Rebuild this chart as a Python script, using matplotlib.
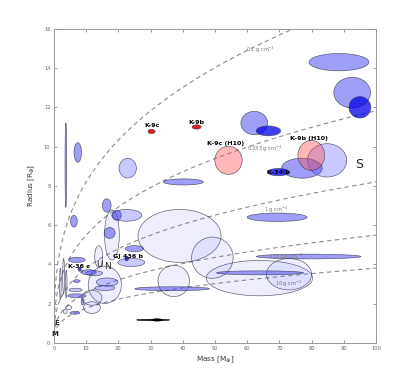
import numpy as np
import matplotlib
matplotlib.use("Agg")
import matplotlib.pyplot as plt
from matplotlib.patches import Ellipse

# ---------------- data ----------------
# planet mass [M_earth], radius [R_earth], full ellipse width in mass, full height in radius, shade
mass = [39.0, 63.8, 49.2, 73.0, 37.2, 15.8, 18.0, 11.8, 11.8,
        88.5, 92.6, 95.0, 62.2, 66.6, 84.8, 77.0, 69.7,
        54.2, 79.9, 30.3, 44.3,
        3.7, 7.4, 22.9, 40.2, 16.4, 19.5, 22.6, 6.2, 17.3,
        64.0, 79.1, 36.7, 25.0, 24.0, 22.6, 69.3,
        7.1, 10.8, 12.5, 7.1, 16.5, 15.8, 6.7, 7.1, 8.9, 4.6, 6.5, 3.5,
        2.0, 3.0, 3.8, 8.0, 13.9]
radius = [5.45, 3.3, 4.34, 3.5, 3.16, 2.96, 5.5, 2.3, 1.8,
          14.3, 12.75, 12.0, 11.2, 10.8, 9.3, 8.9, 8.7,
          9.3, 9.55, 10.77, 11.0,
          9.05, 9.7, 8.9, 8.2, 7.0, 6.5, 6.5, 6.2, 5.6,
          3.57, 4.4, 2.76, 4.8, 4.1, 4.3, 6.4,
          4.23, 3.6, 3.55, 3.15, 3.1, 2.8, 2.7, 2.4, 2.1, 1.8, 1.53, 1.6,
          3.0, 3.4, 3.0, 3.75, 4.4]
mass_w = [25.8, 33.0, 12.9, 14.0, 9.8, 10.3, 4.6, 6.2, 5.2,
          18.6, 11.4, 6.8, 8.3, 7.6, 12.2, 12.6, 6.8,
          8.5, 8.3, 2.2, 2.8,
          0.5, 2.3, 5.4, 12.4, 2.7, 2.8, 9.3, 2.1, 3.4,
          27.0, 32.5, 23.2, 5.7, 8.3, 1.2, 18.6,
          5.2, 4.6, 5.2, 2.1, 6.7, 6.2, 4.1, 5.7, 0.9, 1.9, 3.1, 1.2,
          0.5, 0.6, 0.5, 1.0, 2.5]
radius_h = [2.7, 1.8, 2.1, 1.6, 1.6, 1.9, 2.55, 0.77, 0.6,
            0.88, 1.56, 1.09, 1.19, 0.5, 1.7, 1.02, 0.37,
            1.43, 1.53, 0.22, 0.22,
            4.3, 1.0, 1.0, 0.31, 0.68, 0.5, 0.6, 0.6, 0.56,
            0.2, 0.24, 0.2, 0.31, 0.42, 0.22, 0.43,
            0.26, 0.26, 0.26, 0.14, 0.42, 0.26, 0.17, 0.2, 0.34, 0.2, 0.14, 0.2,
            1.6, 1.8, 1.4, 0.2, 1.1]
shade = ['pale', 'pale', 'pale', 'pale', 'pale', 'pale', 'pale', 'pale', 'pale',
         'mid', 'mid', 'dark', 'mid', 'dark', 'light', 'mid', 'dark',
         'pink', 'pink', 'red', 'red',
         'mid', 'mid', 'light', 'mid', 'mid', 'mid', 'light', 'mid', 'mid',
         'mid', 'mid', 'mid', 'mid', 'light', 'dark', 'mid',
         'mid', 'mid', 'light', 'mid', 'light', 'light', 'light', 'mid', 'mid', 'pale', 'mid', 'pale',
         'pale', 'pale', 'pale', 'dark', 'pale']

planet_labels = ['K-9c', 'K-9b', 'K-9c (H10)', 'K-9b (H10)', 'K-34 b', 'GJ 436 b', 'K-36 c']
label_mass = [30.3, 44.1, 53.3, 79.3, 69.6, 22.9, 7.7]
label_radius = [11.05, 11.25, 10.15, 10.4, 8.7, 4.4, 3.88]

solar_labels = ['S', 'U', 'N', 'E', 'M']
solar_mass = [94.7, 14.2, 16.7, 1.0, 0.3]
solar_radius = [9.1, 4.0, 3.9, 1.0, 0.45]

densities = [0.1, 0.333, 1.0, 3.333, 10.0]
density_labels = ['0.1 g cm$^{-3}$', '0.333 g cm$^{-3}$', '1 g cm$^{-3}$',
                  '3.333 g cm$^{-3}$', '10 g cm$^{-3}$']
density_label_mass = [64.0, 65.5, 69.0, 72.0, 73.0]
density_label_radius = [14.95, 9.9, 6.8, 4.4, 3.0]

bar_mass = [30.8, 32.0]
bar_radius = [1.17, 1.17]
bar_w = [10.2, 3.4]
bar_h = [0.07, 0.12]

x_ticks = list(range(0, 101, 10))
y_ticks = list(range(0, 17, 2))

# ---------------- style ----------------
faces = {
    'pale': (0.3, 0.3, 1.0, 0.09),
    'light': (0.3, 0.3, 1.0, 0.30),
    'mid': (0.25, 0.25, 0.95, 0.50),
    'dark': (0.0, 0.0, 0.9, 0.75),
    'pink': (1.0, 0.3, 0.3, 0.40),
    'red': (0.9, 0.0, 0.0, 0.90),
}

fig = plt.figure(figsize=(4.15, 3.84), dpi=100)
ax = fig.add_axes([0.130, 0.107, 0.776, 0.818])

# density curves
mgrid = np.linspace(0.0, 100.0, 600)
for rho in densities:
    r = (5.51 * mgrid / rho) ** (1.0 / 3.0)
    ax.plot(mgrid, r, ls=(0, (4, 3)), color='0.55', lw=0.8, zorder=1)
for t, m, r in zip(density_labels, density_label_mass, density_label_radius):
    ax.text(m, r, t, fontsize=3.6, color='0.45', ha='center', va='center', zorder=6)

# ellipses, large first
order = sorted(range(len(mass)), key=lambda i: -mass_w[i] * radius_h[i])
for i in order:
    ax.add_patch(Ellipse((mass[i], radius[i]), mass_w[i], radius_h[i],
                         facecolor=faces[shade[i]], edgecolor=(0.2, 0.2, 0.3, 0.75),
                         lw=0.5, zorder=2))

for m, r, w, h in zip(bar_mass, bar_radius, bar_w, bar_h):
    ax.add_patch(Ellipse((m, r), w, h, facecolor='black', edgecolor='black', lw=0.4, zorder=3))

for t, m, r in zip(planet_labels, label_mass, label_radius):
    ax.text(m, r, t, fontsize=4.6, fontweight='bold', color='black',
            ha='center', va='center', zorder=7)

sizes = [9, 6.5, 6.5, 5, 5]
weights = ['normal', 'normal', 'normal', 'bold', 'bold']
for t, m, r, s, w in zip(solar_labels, solar_mass, solar_radius, sizes, weights):
    ax.text(m, r, t, fontsize=s, fontweight=w, color='0.15', ha='center', va='center', zorder=7)

ax.set_xlim(0, 100)
ax.set_ylim(0, 16)
ax.set_xticks(x_ticks)
ax.set_yticks(y_ticks)
ax.tick_params(direction='in', length=2.5, width=0.5, colors='0.45', labelsize=3.7,
               top=True, right=True, labelcolor='0.4', pad=2.5)
for s in ax.spines.values():
    s.set_color('0.6')
    s.set_linewidth(0.7)

ax.set_xlabel('Mass [M$_{\\oplus}$]', fontsize=5.2, color='0.2', labelpad=2)
ax.set_ylabel('Radius [R$_{\\oplus}$]', fontsize=5.2, color='0.2', labelpad=5)

fig.savefig('out.png', dpi=100)
